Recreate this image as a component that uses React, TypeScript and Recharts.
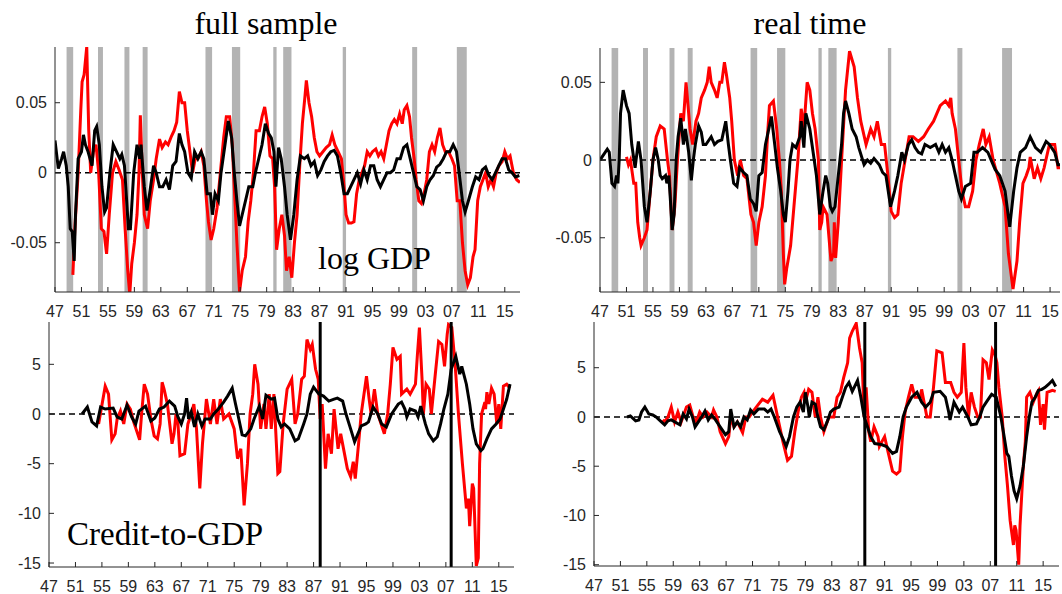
import React from 'react';
import { LineChart, Line, XAxis, YAxis, ReferenceArea, ReferenceLine } from 'recharts';

const W = 1062;
const H = 594;

// tick labels
const xTicks = [1947, 1951, 1955, 1959, 1963, 1967, 1971, 1975, 1979, 1983, 1987, 1991, 1995, 1999, 2003, 2007, 2011, 2015];
const gdpTicks = [-0.05, 0, 0.05];
const creditTicks = [-15, -10, -5, 0, 5];

// NBER recessions (start, end), shaded in the GDP panels
const recessions: [number, number][] = [
  [1948.75, 1949.75], [1953.5, 1954.25], [1957.5, 1958.25], [1960.25, 1961.0],
  [1969.75, 1970.75], [1973.75, 1975.0], [1980.0, 1980.5], [1981.5, 1982.75],
  [1990.5, 1991.0], [2001.0, 2001.75], [2007.75, 2009.25],
];

// crisis dates, vertical lines in the credit panels
const crises = [1988.0, 2007.8];

// full sample, log GDP
const gdpFullRed: [number, number][] = [
  [1949.7, -0.073], [1950.0, -0.04], [1950.5, 0.0], [1950.9, 0.045], [1951.1, 0.065], [1951.4, 0.07], [1951.8, 0.09],
  [1952.1, 0.03], [1952.4, 0.0], [1952.8, 0.015], [1953.2, 0.02], [1953.6, 0.0], [1954.0, -0.04], [1954.4, -0.042],
  [1954.8, -0.058], [1955.2, -0.03], [1955.7, 0.0], [1956.2, 0.008], [1956.7, 0.002], [1957.2, -0.005], [1957.6, -0.04],
  [1958.0, -0.07], [1958.3, -0.087], [1958.6, -0.065], [1959.0, -0.05], [1959.4, -0.03], [1959.7, 0.0], [1959.9, 0.041],
  [1960.2, 0.0], [1960.5, -0.03], [1961.0, -0.04], [1961.4, -0.02], [1961.9, -0.005], [1962.3, 0.01], [1962.8, 0.024],
  [1963.2, 0.018], [1963.7, 0.022], [1964.1, 0.02], [1964.6, 0.026], [1965.0, 0.03], [1965.4, 0.036], [1965.8, 0.058],
  [1966.2, 0.05], [1966.6, 0.05], [1967.0, 0.03], [1967.4, 0.015], [1967.8, 0.0], [1968.2, 0.01], [1968.6, 0.01],
  [1969.1, 0.015], [1969.5, 0.005], [1969.9, -0.02], [1970.2, -0.035], [1970.6, -0.048], [1971.0, -0.04], [1971.5, -0.025],
  [1972.0, 0.0], [1972.5, 0.025], [1972.9, 0.04], [1973.4, 0.04], [1973.8, 0.02], [1974.1, -0.01], [1974.5, -0.05],
  [1974.9, -0.085], [1975.3, -0.07], [1975.8, -0.06], [1976.2, -0.035], [1976.6, -0.02], [1977.0, 0.0], [1977.4, 0.03],
  [1977.9, 0.03], [1978.3, 0.04], [1978.7, 0.047], [1979.1, 0.035], [1979.5, 0.012], [1979.9, 0.01], [1980.2, -0.01],
  [1980.5, -0.055], [1980.9, -0.04], [1981.3, -0.03], [1981.7, -0.045], [1982.0, -0.07], [1982.4, -0.06], [1982.8, -0.075],
  [1983.2, -0.05], [1983.6, -0.03], [1984.0, 0.005], [1984.4, 0.035], [1984.8, 0.055], [1985.0, 0.066], [1985.4, 0.05],
  [1985.8, 0.04], [1986.2, 0.025], [1986.6, 0.015], [1987.0, 0.012], [1987.5, 0.015], [1988.0, 0.018], [1988.5, 0.02],
  [1988.9, 0.027], [1989.3, 0.02], [1989.8, 0.015], [1990.3, 0.01], [1990.7, -0.01], [1991.0, -0.03], [1991.4, -0.036],
  [1991.8, -0.036], [1992.2, -0.035], [1992.6, -0.015], [1993.0, -0.005], [1993.4, 0.0], [1993.8, 0.005], [1994.2, 0.015],
  [1994.6, 0.012], [1995.0, 0.015], [1995.5, 0.017], [1995.9, 0.012], [1996.3, 0.015], [1996.7, 0.01], [1997.1, 0.02],
  [1997.5, 0.03], [1997.9, 0.035], [1998.3, 0.038], [1998.7, 0.035], [1999.1, 0.042], [1999.5, 0.035], [1999.8, 0.045],
  [2000.2, 0.048], [2000.6, 0.04], [2000.9, 0.025], [2001.3, 0.01], [2001.6, -0.005], [2002.0, -0.02], [2002.4, -0.022],
  [2002.8, -0.015], [2003.2, -0.005], [2003.6, 0.015], [2004.0, 0.02], [2004.4, 0.015], [2004.8, 0.025], [2005.2, 0.032],
  [2005.6, 0.02], [2006.0, 0.015], [2006.5, 0.015], [2007.0, 0.01], [2007.4, 0.005], [2007.8, -0.02], [2008.2, -0.02],
  [2008.6, -0.05], [2009.0, -0.07], [2009.4, -0.08], [2009.8, -0.075], [2010.2, -0.06], [2010.5, -0.055], [2010.9, -0.02],
  [2011.3, -0.01], [2011.7, -0.005], [2012.1, 0.0], [2012.5, -0.01], [2012.9, -0.005], [2013.3, -0.01], [2013.7, 0.0],
  [2014.1, 0.005], [2014.6, 0.008], [2015.0, 0.015], [2015.4, 0.01], [2015.8, 0.012], [2016.3, 0.0], [2016.8, -0.005],
  [2017.3, -0.007],
];

const gdpFullBlack: [number, number][] = [
  [1947.0, 0.023], [1947.5, 0.003], [1948.0, 0.01], [1948.3, 0.015], [1948.7, 0.005], [1949.0, -0.01], [1949.3, -0.04],
  [1949.6, -0.042], [1949.9, -0.063], [1950.1, -0.03], [1950.5, 0.01], [1951.0, 0.015], [1951.3, 0.027], [1951.6, 0.02],
  [1952.0, 0.015], [1952.6, 0.005], [1953.0, 0.03], [1953.3, 0.033], [1953.7, 0.02], [1954.1, -0.01], [1954.5, -0.028],
  [1954.8, -0.025], [1955.3, 0.0], [1955.8, 0.02], [1956.3, 0.015], [1956.8, 0.01], [1957.1, 0.013], [1957.5, 0.005],
  [1958.1, -0.04], [1958.4, -0.04], [1958.9, 0.0], [1959.4, 0.02], [1959.8, 0.01], [1960.0, 0.02], [1960.5, -0.01],
  [1960.9, -0.027], [1961.3, -0.015], [1961.9, 0.005], [1962.3, 0.0], [1962.8, -0.01], [1963.3, -0.01], [1963.8, -0.005],
  [1964.3, -0.012], [1964.8, 0.005], [1965.3, 0.008], [1965.8, 0.028], [1966.2, 0.02], [1966.6, 0.015], [1967.1, 0.0],
  [1967.6, -0.004], [1968.1, 0.015], [1968.6, 0.01], [1969.1, 0.015], [1969.5, 0.01], [1970.0, -0.015], [1970.5, -0.015],
  [1970.8, -0.03], [1971.2, -0.015], [1971.7, -0.02], [1972.1, 0.0], [1972.7, 0.02], [1973.2, 0.037], [1973.7, 0.025],
  [1974.1, 0.0], [1974.5, -0.02], [1974.9, -0.038], [1975.3, -0.03], [1975.8, -0.02], [1976.3, -0.01], [1976.9, -0.01],
  [1977.3, 0.0], [1977.8, 0.01], [1978.3, 0.02], [1978.8, 0.035], [1979.3, 0.028], [1979.7, 0.025], [1980.1, 0.015],
  [1980.4, -0.01], [1980.8, 0.018], [1981.2, 0.01], [1981.7, -0.01], [1982.1, -0.03], [1982.6, -0.048], [1983.1, -0.03],
  [1983.6, -0.005], [1984.1, 0.012], [1984.7, 0.01], [1985.2, 0.012], [1985.7, 0.005], [1986.2, 0.008], [1986.7, -0.002],
  [1987.2, 0.002], [1987.7, 0.008], [1988.2, 0.012], [1988.7, 0.015], [1989.2, 0.016], [1989.7, 0.012], [1990.2, 0.0],
  [1990.7, -0.015], [1991.2, -0.015], [1991.7, -0.01], [1992.2, -0.005], [1992.7, 0.0], [1993.2, -0.008], [1993.7, 0.002],
  [1994.2, -0.005], [1994.7, 0.005], [1995.2, 0.005], [1995.7, -0.005], [1996.2, -0.01], [1996.7, -0.005], [1997.2, 0.0],
  [1997.7, 0.0], [1998.2, 0.002], [1998.7, 0.01], [1999.2, 0.01], [1999.7, 0.018], [2000.2, 0.02], [2000.7, 0.01],
  [2001.2, 0.0], [2001.7, -0.01], [2002.2, -0.012], [2002.7, -0.02], [2003.2, -0.01], [2003.7, -0.005], [2004.2, -0.002],
  [2004.7, 0.004], [2005.2, 0.006], [2005.7, 0.01], [2006.2, 0.015], [2006.7, 0.015], [2007.2, 0.02], [2007.7, 0.015],
  [2008.1, 0.0], [2008.6, -0.02], [2009.0, -0.028], [2009.5, -0.02], [2010.1, -0.01], [2010.6, -0.003], [2011.1, -0.005],
  [2011.6, 0.002], [2012.1, 0.004], [2012.6, -0.002], [2013.1, -0.005], [2013.6, 0.0], [2014.1, 0.005], [2014.6, 0.01],
  [2015.1, 0.01], [2015.6, 0.002], [2016.1, 0.0], [2016.6, -0.003], [2017.2, -0.002],
];

// real time, log GDP
const gdpRealRed: [number, number][] = [
  [1951.0, 0.002], [1951.3, -0.003], [1951.6, 0.0], [1952.1, -0.015], [1952.4, -0.015], [1952.7, -0.04], [1953.0, -0.05],
  [1953.2, -0.055], [1953.7, -0.05], [1954.1, -0.045], [1954.6, -0.02], [1955.0, 0.0], [1955.5, 0.015], [1956.1, 0.022],
  [1956.7, 0.02], [1957.2, 0.0], [1957.5, -0.01], [1957.9, -0.045], [1958.3, -0.03], [1958.7, 0.0], [1959.2, 0.03],
  [1959.6, 0.025], [1960.0, 0.05], [1960.3, 0.035], [1960.6, 0.02], [1961.0, 0.01], [1961.5, 0.025], [1961.9, 0.03],
  [1962.3, 0.04], [1962.8, 0.045], [1963.2, 0.05], [1963.5, 0.06], [1963.8, 0.05], [1964.3, 0.045], [1964.7, 0.04],
  [1965.1, 0.05], [1965.4, 0.05], [1965.8, 0.063], [1966.1, 0.055], [1966.6, 0.04], [1966.9, 0.025], [1967.3, 0.0],
  [1967.8, -0.01], [1968.2, 0.0], [1968.7, -0.01], [1969.2, -0.012], [1969.8, -0.035], [1970.2, -0.04], [1970.6, -0.055],
  [1971.0, -0.04], [1971.5, -0.03], [1972.0, -0.01], [1972.3, 0.015], [1972.6, 0.035], [1973.2, 0.038], [1973.7, 0.02],
  [1974.1, 0.0], [1974.4, -0.02], [1974.7, -0.06], [1974.9, -0.08], [1975.2, -0.07], [1975.8, -0.055], [1976.3, -0.03],
  [1976.9, 0.0], [1977.2, 0.02], [1977.4, 0.033], [1977.8, 0.02], [1978.3, 0.05], [1978.7, 0.045], [1979.1, 0.03],
  [1979.5, 0.02], [1980.0, 0.0], [1980.2, -0.045], [1980.5, -0.04], [1980.7, -0.03], [1981.3, -0.035], [1981.9, -0.065],
  [1982.3, -0.06], [1982.4, -0.04], [1982.6, -0.063], [1983.0, -0.04], [1983.5, 0.0], [1984.1, 0.045], [1984.7, 0.07],
  [1985.4, 0.06], [1985.9, 0.04], [1986.4, 0.025], [1987.2, 0.01], [1987.9, 0.02], [1988.4, 0.015], [1988.9, 0.025],
  [1989.5, 0.01], [1990.0, 0.01], [1990.5, -0.01], [1991.0, -0.033], [1991.5, -0.037], [1992.0, -0.035], [1992.5, -0.015],
  [1993.1, 0.0], [1993.7, 0.015], [1994.3, 0.015], [1995.1, 0.012], [1995.9, 0.015], [1996.6, 0.02], [1997.4, 0.025],
  [1997.9, 0.03], [1998.4, 0.035], [1999.2, 0.038], [1999.7, 0.035], [2000.0, 0.04], [2000.2, 0.03], [2000.7, 0.02],
  [2001.2, 0.0], [2001.7, -0.02], [2002.2, -0.03], [2002.7, -0.03], [2003.3, -0.02], [2003.8, 0.0], [2004.3, 0.01],
  [2004.9, 0.02], [2005.3, 0.01], [2005.8, 0.015], [2006.4, 0.0], [2007.4, -0.015], [2008.2, -0.03], [2008.7, -0.06],
  [2009.4, -0.083], [2010.0, -0.065], [2010.4, -0.04], [2010.9, -0.015], [2011.4, -0.01], [2011.8, -0.005], [2012.0, 0.002],
  [2012.6, -0.012], [2013.1, -0.005], [2013.6, -0.012], [2014.1, -0.005], [2014.9, 0.01], [2015.7, 0.01], [2016.2, -0.005],
  [2016.8, -0.005],
];

const gdpRealBlack: [number, number][] = [
  [1947.0, 0.0], [1948.1, 0.007], [1948.4, 0.005], [1948.8, -0.015], [1949.2, -0.017], [1949.5, -0.01], [1949.7, -0.015],
  [1949.9, 0.0], [1950.1, 0.03], [1950.5, 0.045], [1951.0, 0.035], [1951.4, 0.03], [1951.8, 0.01], [1952.3, -0.005],
  [1952.8, 0.012], [1953.2, 0.0], [1953.7, -0.03], [1954.1, -0.04], [1954.6, -0.02], [1955.0, 0.0], [1955.4, 0.008],
  [1955.8, 0.0], [1956.1, -0.01], [1956.4, -0.012], [1956.9, -0.01], [1957.1, -0.015], [1957.4, -0.01], [1957.7, -0.03],
  [1957.9, -0.045], [1958.2, -0.035], [1958.5, 0.0], [1958.8, 0.015], [1959.2, 0.027], [1959.6, 0.01], [1959.9, 0.02],
  [1960.4, 0.005], [1960.8, -0.013], [1961.1, 0.0], [1961.4, 0.01], [1961.9, 0.022], [1962.3, 0.018], [1962.6, 0.01],
  [1963.0, 0.01], [1963.8, 0.015], [1964.3, 0.01], [1964.8, 0.012], [1965.4, 0.013], [1966.0, 0.025], [1966.4, 0.01],
  [1966.7, 0.0], [1967.2, -0.015], [1967.7, -0.017], [1968.1, -0.005], [1968.7, -0.008], [1969.2, -0.01], [1969.7, -0.025],
  [1970.2, -0.028], [1970.6, -0.033], [1971.0, -0.01], [1971.5, -0.008], [1972.0, 0.01], [1972.5, 0.02], [1972.9, 0.028],
  [1973.4, 0.01], [1973.8, -0.005], [1974.3, -0.02], [1974.7, -0.035], [1975.0, -0.04], [1975.4, -0.02], [1975.7, 0.0],
  [1976.1, 0.01], [1976.6, 0.008], [1977.2, 0.015], [1977.4, 0.025], [1977.8, 0.008], [1978.1, 0.03], [1978.7, 0.02],
  [1979.2, 0.005], [1979.7, -0.01], [1980.2, -0.035], [1980.7, -0.02], [1981.1, -0.01], [1981.4, -0.015], [1981.8, -0.03],
  [1982.1, -0.033], [1982.5, -0.03], [1983.0, -0.01], [1983.5, 0.01], [1983.8, 0.03], [1984.1, 0.038], [1984.6, 0.03],
  [1985.1, 0.02], [1985.7, 0.015], [1986.1, 0.008], [1986.9, -0.003], [1987.4, 0.0], [1987.9, -0.002], [1988.4, 0.001],
  [1989.2, -0.003], [1989.7, -0.008], [1990.2, -0.01], [1990.9, -0.03], [1991.5, -0.02], [1992.0, -0.01], [1992.6, 0.005],
  [1993.0, 0.0], [1993.6, 0.01], [1994.1, 0.013], [1994.6, 0.008], [1995.1, 0.005], [1995.6, 0.004], [1996.1, 0.01],
  [1996.9, 0.008], [1997.7, 0.01], [1998.2, 0.005], [1998.7, 0.01], [1999.2, 0.005], [1999.7, 0.008], [2000.2, 0.0],
  [2000.7, -0.01], [2001.2, -0.02], [2001.6, -0.025], [2002.2, -0.017], [2003.0, -0.015], [2003.5, 0.005], [2004.0, 0.005],
  [2004.8, 0.008], [2005.6, 0.005], [2006.1, 0.0], [2006.7, -0.006], [2007.4, -0.01], [2008.2, -0.02], [2008.9, -0.043],
  [2009.5, -0.02], [2010.0, -0.005], [2010.5, 0.005], [2011.3, 0.008], [2012.0, 0.015], [2012.8, 0.008], [2013.6, 0.005],
  [2014.4, 0.012], [2014.9, 0.01], [2015.7, 0.005], [2016.2, -0.003], [2016.8, -0.003],
];

// full sample, credit-to-GDP
const creditFullRed: [number, number][] = [
  [1954.5, -1.0], [1955.5, 2.8], [1956.0, 2.0], [1956.5, -2.6], [1957.0, -2.0], [1957.3, -0.5], [1957.8, 0.3],
  [1958.3, -1.0], [1958.8, 1.0], [1959.3, 0.5], [1959.8, -0.8], [1960.7, -2.6], [1961.0, 0.0], [1961.4, 3.0],
  [1961.9, 2.0], [1962.4, -0.5], [1962.9, -2.2], [1963.4, -2.5], [1963.8, -1.0], [1964.1, 3.2], [1964.4, 2.5],
  [1964.9, 1.0], [1965.6, -3.0], [1965.9, -2.0], [1966.2, 0.0], [1966.5, -1.0], [1966.8, -4.2], [1967.5, -4.0],
  [1968.0, -1.0], [1968.5, 0.0], [1968.9, 1.0], [1969.3, -1.5], [1969.8, -7.5], [1970.2, -3.0], [1970.8, 1.5],
  [1971.4, -1.0], [1971.9, 1.5], [1972.4, -1.0], [1972.9, 1.5], [1973.4, -0.5], [1974.2, 0.0], [1975.0, -1.5],
  [1975.5, -4.5], [1976.0, -3.5], [1976.5, -9.2], [1977.0, -5.0], [1977.4, 0.0], [1977.8, 2.0], [1978.1, 5.0],
  [1978.6, 3.0], [1979.0, -1.5], [1979.5, 1.0], [1979.8, -1.5], [1980.3, 2.0], [1980.6, -1.5], [1981.0, 2.0],
  [1981.6, -6.0], [1981.9, -5.8], [1982.4, -1.0], [1983.0, 2.5], [1983.7, 3.5], [1984.2, -1.0], [1984.6, 0.0],
  [1985.2, 3.5], [1985.6, 3.8], [1986.0, 7.5], [1986.5, 6.5], [1986.8, 7.0], [1987.3, 4.5], [1987.7, 3.5],
  [1988.0, -0.5], [1988.3, 1.0], [1988.8, -5.5], [1989.2, -2.0], [1989.7, -4.0], [1990.1, 0.5], [1990.7, -3.5],
  [1991.1, -2.0], [1992.1, -5.5], [1992.6, -6.3], [1993.0, -4.8], [1993.3, -6.5], [1993.8, -3.0], [1994.2, 0.0],
  [1995.0, 3.8], [1995.4, 1.5], [1995.7, 0.0], [1996.2, 2.5], [1996.7, 0.0], [1997.7, -2.0], [1998.2, 0.0],
  [1998.6, 3.0], [1999.0, 6.7], [1999.6, 5.5], [2000.1, 5.8], [2000.3, 2.0], [2001.1, 2.5], [2001.6, 2.0],
  [2002.4, 3.0], [2002.7, 6.0], [2003.0, 8.7], [2003.4, 3.5], [2003.6, 0.0], [2004.0, 3.0], [2004.5, 2.5],
  [2004.8, 0.0], [2005.4, 4.0], [2005.9, 7.3], [2006.4, 7.0], [2006.8, 4.8], [2007.2, 8.0], [2007.4, 9.0],
  [2007.9, 8.7], [2008.4, 5.0], [2008.9, 0.0], [2009.5, -5.0], [2009.9, -8.0], [2010.1, -9.5], [2010.4, -8.5],
  [2010.6, -11.3], [2011.0, -7.0], [2011.2, -7.5], [2011.6, -15.3], [2011.9, -14.5], [2012.1, -5.0], [2012.4, 0.0],
  [2012.9, 1.2], [2013.0, 0.5], [2013.2, 2.2], [2013.5, 1.0], [2013.9, 2.6], [2014.3, 2.0], [2014.7, -1.0],
  [2015.0, 1.0], [2015.3, -1.5], [2015.7, 2.8], [2016.2, 3.0], [2016.7, 2.6],
];

const creditFullBlack: [number, number][] = [
  [1952.0, 0.0], [1952.8, 0.7], [1953.5, -0.8], [1954.2, -1.2], [1954.8, 0.7], [1955.5, 0.5], [1956.7, 0.6],
  [1957.3, -0.3], [1958.0, -0.5], [1958.8, 0.9], [1959.5, -0.3], [1960.1, -1.0], [1960.6, 0.3], [1961.6, 0.8],
  [1962.4, -0.7], [1963.0, -0.4], [1963.7, 0.5], [1964.4, 0.7], [1965.2, 1.3], [1966.0, 0.8], [1966.5, -0.3],
  [1967.0, -1.0], [1967.5, 0.0], [1967.8, 1.6], [1968.1, -0.5], [1968.5, 0.2], [1969.0, -1.3], [1969.5, 0.0],
  [1970.1, -1.2], [1970.6, -0.5], [1971.4, -0.5], [1971.9, 0.0], [1972.6, 0.5], [1973.4, 1.2], [1974.0, 1.8],
  [1974.7, 2.6], [1975.2, 1.0], [1975.7, -0.5], [1976.2, -2.1], [1976.7, -2.2], [1977.5, -1.5], [1978.0, -0.5],
  [1978.8, 0.8], [1979.3, -0.5], [1979.8, 1.9], [1980.6, 1.5], [1981.1, 1.6], [1981.6, -0.5], [1982.1, -1.3],
  [1982.6, -1.0], [1983.4, -1.5], [1984.2, -2.7], [1984.7, -2.5], [1985.5, -1.0], [1986.0, 0.0], [1986.5, 2.0],
  [1987.0, 2.7], [1987.8, 2.0], [1988.5, 1.8], [1989.3, 1.3], [1990.1, 1.5], [1990.6, 1.6], [1991.4, 1.3],
  [1991.9, 0.0], [1992.6, -1.5], [1993.2, -2.8], [1993.7, -2.0], [1994.2, -1.2], [1994.9, -1.0], [1995.3, -0.8],
  [1996.0, 0.7], [1996.7, 0.0], [1997.3, -1.0], [1998.0, -1.3], [1998.8, 0.0], [1999.8, 1.0], [2000.3, 1.2],
  [2000.8, 0.5], [2001.1, -0.3], [2001.6, 0.5], [2002.4, 0.3], [2002.8, -0.3], [2003.2, 0.8], [2003.9, -1.0],
  [2004.4, -2.0], [2005.1, -2.7], [2005.7, -2.3], [2006.2, -1.0], [2006.7, 0.5], [2007.3, 2.0], [2007.8, 4.5],
  [2008.5, 5.8], [2009.1, 4.0], [2009.4, 4.8], [2010.1, 3.0], [2010.6, 1.0], [2011.1, -1.5], [2011.6, -3.0],
  [2012.3, -3.7], [2012.6, -3.5], [2013.2, -2.5], [2013.9, -1.5], [2014.6, -1.0], [2015.2, -0.5], [2015.7, 0.5],
  [2016.2, 1.5], [2016.7, 3.0],
];

// real time, credit-to-GDP
const creditRealRed: [number, number][] = [
  [1957.4, -0.3], [1957.7, -0.5], [1958.2, 0.0], [1958.7, 1.0], [1959.2, -0.5], [1959.7, 0.5], [1960.2, -0.5],
  [1961.0, 1.0], [1961.5, 1.2], [1962.0, 0.0], [1962.5, -0.5], [1963.0, 0.5], [1963.5, 0.0], [1964.1, 0.5],
  [1964.8, 0.0], [1965.1, 0.7], [1965.6, 0.0], [1966.1, -1.5], [1966.9, -2.7], [1967.4, -2.0], [1967.7, 0.0],
  [1968.2, -1.0], [1968.7, -0.5], [1969.5, -1.6], [1970.0, 0.0], [1970.5, 0.0], [1971.0, 0.5], [1971.8, 1.2],
  [1972.5, 1.8], [1973.3, 1.5], [1974.1, 2.2], [1974.8, 0.0], [1975.6, -2.5], [1976.3, -4.4], [1976.9, -4.0],
  [1977.4, -1.5], [1977.9, 0.5], [1978.4, 2.0], [1978.8, 2.5], [1979.0, 1.5], [1979.5, 2.8], [1980.0, 2.5],
  [1980.5, 0.0], [1980.9, 2.0], [1981.3, 0.0], [1981.8, -1.5], [1982.3, -0.5], [1982.6, 0.0], [1983.3, 0.0],
  [1983.8, 2.0], [1984.3, 2.5], [1984.8, 4.0], [1985.4, 5.5], [1985.7, 8.0], [1986.1, 8.7], [1986.7, 9.5],
  [1987.2, 7.0], [1987.6, 5.5], [1987.9, 0.0], [1988.2, 3.0], [1988.6, -1.5], [1988.9, -2.5], [1989.4, -1.0],
  [1990.0, -2.0], [1990.2, -3.0], [1991.0, -2.0], [1991.5, -3.5], [1992.2, -5.5], [1992.8, -5.8], [1993.3, -5.5],
  [1993.7, -2.0], [1994.1, 0.5], [1994.6, 2.0], [1995.1, 3.3], [1995.6, 2.0], [1996.4, 2.0], [1996.6, 2.8],
  [1997.4, 0.0], [1997.9, 0.0], [1998.4, 3.0], [1998.9, 6.7], [1999.7, 6.5], [2000.2, 3.5], [2001.0, 3.5],
  [2001.5, 2.5], [2002.0, 2.0], [2002.6, 2.5], [2003.0, 7.5], [2003.3, 3.0], [2003.7, 0.0], [2004.1, 2.5],
  [2004.6, 1.0], [2005.1, 0.0], [2005.5, 0.0], [2005.9, 5.8], [2006.4, 5.5], [2006.8, 3.8], [2007.3, 6.8],
  [2007.7, 6.3], [2008.0, 5.5], [2008.3, 3.0], [2008.8, 0.0], [2009.2, -4.0], [2009.6, -7.0], [2010.0, -10.5],
  [2010.2, -11.5], [2010.5, -13.0], [2010.7, -11.0], [2010.9, -11.5], [2011.3, -15.0], [2011.5, -11.0], [2012.0, -5.0],
  [2012.3, -2.5], [2012.5, 2.0], [2013.0, 2.5], [2013.5, 1.5], [2014.1, 2.5], [2014.3, 2.7], [2014.6, -0.8],
  [2015.0, 1.3], [2015.2, -1.3], [2015.6, 2.5], [2016.4, 2.7], [2016.9, 2.6],
];

const creditRealBlack: [number, number][] = [
  [1952.0, 0.0], [1952.5, 0.1], [1953.3, -0.4], [1953.8, -0.3], [1954.2, 0.5], [1954.7, 1.0], [1955.3, 0.3],
  [1955.9, 0.2], [1956.4, 0.0], [1957.2, -0.5], [1957.7, -0.8], [1958.2, -0.4], [1958.7, -0.3], [1960.0, -0.8],
  [1960.5, 0.3], [1961.0, -0.2], [1961.4, 0.8], [1961.9, 0.0], [1962.3, -1.0], [1962.8, -0.5], [1963.3, 0.0],
  [1963.8, 0.6], [1964.3, -0.3], [1964.8, 0.2], [1965.4, -0.3], [1966.1, -1.0], [1966.9, -1.8], [1967.4, -1.5],
  [1967.7, 0.8], [1968.2, -1.0], [1968.7, -0.5], [1969.2, -1.0], [1969.7, 0.0], [1970.2, -0.3], [1970.7, 0.7],
  [1971.2, 0.3], [1971.9, 0.8], [1972.8, 0.8], [1973.3, 0.5], [1973.8, 0.8], [1974.3, 0.0], [1975.1, -1.5],
  [1975.6, -2.2], [1976.1, -3.0], [1976.6, -2.0], [1977.2, 0.0], [1977.7, 1.0], [1978.2, 1.5], [1978.7, 0.5],
  [1979.0, 2.5], [1979.4, 1.0], [1979.6, 0.0], [1980.0, 1.5], [1980.5, 1.3], [1980.9, 0.0], [1981.3, -1.0],
  [1981.8, -1.3], [1982.3, -0.5], [1982.8, 0.5], [1983.3, 0.8], [1984.1, 1.0], [1984.6, 2.0], [1985.1, 3.0],
  [1985.6, 3.5], [1986.1, 2.6], [1986.9, 3.7], [1987.4, 2.0], [1987.9, 0.0], [1988.4, -1.0], [1988.9, -2.0],
  [1989.5, -2.7], [1990.5, -2.8], [1991.3, -3.0], [1992.2, -3.7], [1992.8, -3.5], [1993.3, -2.0], [1993.8, 0.0],
  [1994.3, 1.0], [1995.1, 2.0], [1995.9, 2.5], [1996.6, 1.5], [1997.2, 1.0], [1997.9, 1.5], [1998.4, 2.5],
  [1999.4, 2.6], [2000.2, 2.0], [2000.7, 0.5], [2000.9, -0.3], [2001.5, 1.5], [2002.3, 0.5], [2002.8, 1.0],
  [2003.6, 0.0], [2004.1, -0.8], [2004.9, -0.7], [2005.4, 0.0], [2005.9, 1.0], [2006.4, 1.5], [2007.2, 2.3],
  [2007.9, 2.0], [2008.6, 0.0], [2009.1, -2.0], [2009.5, -3.7], [2009.8, -4.0], [2010.2, -6.0], [2010.6, -7.5],
  [2011.0, -8.3], [2011.5, -7.0], [2012.0, -5.0], [2012.5, -2.0], [2012.9, 0.0], [2013.3, 1.5], [2013.8, 2.0],
  [2014.3, 2.7], [2014.8, 2.8], [2015.3, 3.0], [2015.8, 3.3], [2016.4, 3.7], [2016.9, 3.1],
];

type Row = { x: number; red?: number; black?: number };

function merge(red: [number, number][], black: [number, number][]): Row[] {
  const m = new Map<number, Row>();
  red.forEach(([x, v]) => { const r = m.get(x) ?? { x }; r.red = v; m.set(x, r); });
  black.forEach(([x, v]) => { const r = m.get(x) ?? { x }; r.black = v; m.set(x, r); });
  return [...m.values()].sort((a, b) => a.x - b.x);
}

const AXIS = '#262626';
const tickFont = { fill: AXIS, fontSize: 16, fontFamily: 'Liberation Sans, Arial, sans-serif' };
const yearLabel = (v: number) => String(v % 100).padStart(2, '0');
const numLabel = (v: number) => (v === 0 ? '0' : String(v));

type PanelProps = {
  red: [number, number][];
  black: [number, number][];
  box: { l: number; r: number; t: number; b: number };
  xMax: number;
  yDomain: [number, number];
  yTicks: number[];
  shade?: boolean;
  vlines?: number[];
};

function Panel({ red, black, box, xMax, yDomain, yTicks, shade, vlines }: PanelProps) {
  const rows = merge(red, black);
  const yW = 48;
  const xH = 30;
  return (
    <div style={{ position: 'absolute', left: 0, top: 0 }}>
      <LineChart
        width={W}
        height={H}
        data={rows}
        margin={{ left: box.l - yW, top: box.t, right: W - box.r, bottom: H - box.b - xH }}
      >
        <XAxis
          dataKey="x"
          type="number"
          domain={[1947, xMax]}
          ticks={xTicks}
          interval={0}
          allowDataOverflow
          tickFormatter={yearLabel}
          tickSize={-5}
          tickMargin={19}
          height={xH}
          stroke={AXIS}
          tick={tickFont}
        />
        <YAxis
          type="number"
          domain={yDomain}
          ticks={yTicks}
          interval={0}
          allowDataOverflow
          tickFormatter={numLabel}
          tickSize={-5}
          tickMargin={13}
          width={yW}
          stroke={AXIS}
          tick={tickFont}
        />
        {shade && recessions.map(([a, b]) => (
          <ReferenceArea key={a} x1={a} x2={b} fill="#b3b3b3" fillOpacity={1} stroke="none" />
        ))}
        <ReferenceLine y={0} stroke="#000" strokeWidth={1.5} strokeDasharray="6 4" />
        <Line dataKey="red" type="linear" stroke="#ff0000" strokeWidth={3} dot={false} connectNulls isAnimationActive={false} />
        <Line dataKey="black" type="linear" stroke="#000" strokeWidth={3} dot={false} connectNulls isAnimationActive={false} />
        {vlines && vlines.map((v) => (
          <ReferenceLine key={v} x={v} stroke="#000" strokeWidth={3} />
        ))}
      </LineChart>
    </div>
  );
}

const serif = 'Liberation Serif, Times New Roman, serif';

export default function App() {
  return (
    <div style={{ position: 'absolute', left: 0, top: 0, width: W, height: H, background: '#fff', overflow: 'hidden' }}>
      <Panel red={gdpFullRed} black={gdpFullBlack} box={{ l: 55, r: 520, t: 47, b: 292 }} xMax={2017.3}
        yDomain={[-0.0852, 0.0898]} yTicks={gdpTicks} shade />
      <Panel red={gdpRealRed} black={gdpRealBlack} box={{ l: 600, r: 1060, t: 48, b: 292 }} xMax={2016.5}
        yDomain={[-0.0849, 0.0721]} yTicks={gdpTicks} shade />
      <Panel red={creditFullRed} black={creditFullBlack} box={{ l: 49, r: 514, t: 322, b: 567 }} xMax={2017.3}
        yDomain={[-15.4, 9.26]} yTicks={creditTicks} vlines={crises} />
      <Panel red={creditRealRed} black={creditRealBlack} box={{ l: 594, r: 1059, t: 322, b: 566 }} xMax={2017.4}
        yDomain={[-15.13, 9.64]} yTicks={creditTicks} vlines={crises} />
      <svg width={W} height={H} style={{ position: 'absolute', left: 0, top: 0 }}>
        <text x={266} y={34} textAnchor="middle" fontFamily={serif} fontSize={32} fill="#000">full sample</text>
        <text x={810} y={34} textAnchor="middle" fontFamily={serif} fontSize={32} fill="#000">real time</text>
        <text x={318} y={269} fontFamily={serif} fontSize={32} fill="#000">log GDP</text>
        <text x={67} y={545} fontFamily={serif} fontSize={33} fill="#000">Credit-to-GDP</text>
      </svg>
    </div>
  );
}
